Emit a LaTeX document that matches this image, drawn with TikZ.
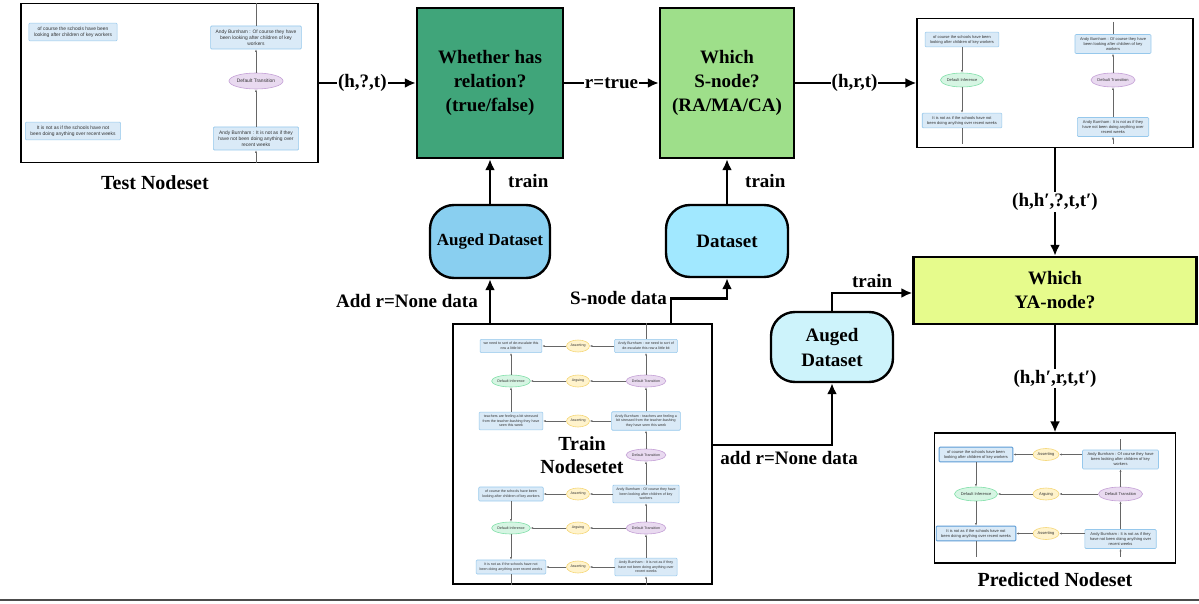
\documentclass[tikz,border=0pt]{standalone}
\usepackage{fontspec}
\setmainfont{Liberation Serif}
\setsansfont{Liberation Sans}
\usetikzlibrary{arrows.meta,shapes.geometric}
\definecolor{relgreen}{RGB}{64,165,122}
\definecolor{snodegreen}{RGB}{158,223,138}
\definecolor{yagreen}{RGB}{230,251,140}
\definecolor{augblue}{RGB}{137,207,240}
\definecolor{dsblue}{RGB}{161,232,255}
\definecolor{augpale}{RGB}{205,243,251}
\definecolor{propfill}{RGB}{218,234,247}
\definecolor{propline}{RGB}{150,200,236}
\definecolor{propdark}{RGB}{91,155,213}
\definecolor{transfill}{RGB}{233,218,240}
\definecolor{transline}{RGB}{196,160,214}
\definecolor{inffill}{RGB}{214,245,227}
\definecolor{infline}{RGB}{130,224,170}
\definecolor{assfill}{RGB}{255,243,204}
\definecolor{assline}{RGB}{245,215,120}

\begin{document}
\begin{tikzpicture}[x=1pt, y=-1pt,
  stage/.style={draw, line width=2.4pt, align=center, inner sep=0pt, font=\bfseries\fontsize{19}{24}\selectfont},
  dset/.style={draw, line width=2.4pt, rounded corners=24pt, align=center, inner sep=0pt, font=\bfseries\fontsize{19}{25}\selectfont},
  frame/.style={draw, line width=1.2pt, fill=white, inner sep=0pt},
  flow/.style={line width=2.4pt, -{Latex[length=11pt,width=10pt]}},
  lab/.style={font=\bfseries\fontsize{19}{23}\selectfont, fill=white, inner sep=1pt},
  title/.style={font=\bfseries\fontsize{20}{23}\selectfont, align=center},
  prop/.style={draw=propline, fill=propfill, line width=0.6pt, rounded corners=1pt, align=center, text=black!80},
  trans/.style={ellipse, draw=transline, fill=transfill, line width=0.6pt, inner sep=0pt, text=black!80},
  inf/.style={ellipse, draw=infline, fill=inffill, line width=0.6pt, inner sep=0pt, text=black!80},
  ass/.style={ellipse, draw=assline, fill=assfill, line width=0.6pt, inner sep=0pt, text=black!80},
  link/.style={draw=black!60, line width=0.5pt},
  linkto/.style={link, -{Latex[length=2.5pt,width=2pt]}}]
  \useasboundingbox (0,0) rectangle (1199,604);

  \node[frame, minimum width=297pt, minimum height=159pt] (test) at (169.5,83) {};
  \node[stage, fill=relgreen, minimum width=146pt, minimum height=150pt] (rel) at (490,83) {Whether has\\relation?\\(true/false)};
  \node[stage, fill=snodegreen, minimum width=134pt, minimum height=150pt] (snode) at (727,83) {Which\\S-node?\\(RA/MA/CA)};
  \node[frame, minimum width=276pt, minimum height=129pt] (sres) at (1055,83) {};
  \node[stage, fill=yagreen, minimum width=283pt, minimum height=67pt] (ya) at (1055,290.5) {Which\\YA-node?};
  \node[frame, minimum width=241pt, minimum height=130pt] (pred) at (1055,498) {};
  \node[dset, fill=augblue, minimum width=120pt, minimum height=73pt, font=\bfseries\fontsize{17}{20}\selectfont] (aug1) at (490,241.5) {Auged Dataset};
  \node[dset, fill=dsblue, minimum width=122pt, minimum height=72pt] (ds) at (727,241) {Dataset};
  \node[frame, minimum width=259pt, minimum height=260pt] (trainset) at (582.5,454) {};
  \node[dset, fill=augpale, minimum width=122pt, minimum height=70pt] (aug2) at (832,347) {Auged\\Dataset};

  \begin{scope}[every node/.append style={font=\sffamily\fontsize{4.9}{6.2}\selectfont, inner xsep=5pt, inner ysep=3.5pt}]
    \node[prop] (t1) at (73,32) {of course the schools have been\\looking after children of key workers};
    \node[prop] (t2) at (73,131) {It is not as if the schools have not\\been doing anything over recent weeks};
    \node[prop] (t3) at (256,37.5) {Andy Burnham : Of course they have\\been looking after children of key\\workers};
    \node[trans, minimum width=51pt, minimum height=16pt] (t4) at (256,81) {Default Transition};
    \node[prop] (t5) at (256,138.5) {Andy Burnham : It is not as if they\\have not been doing anything over\\recent weeks};
    \draw[link] (test.north -| t3) -- (t3);
    \draw[linkto] (t4) -- (t3);
    \draw[linkto] (t5) -- (t4);
    \draw[linkto] (test.south -| t5) -- (t5);
  \end{scope}

  \begin{scope}[every node/.append style={font=\sffamily\fontsize{4}{5}\selectfont, inner xsep=5pt, inner ysep=3pt}]
    \node[prop] (r1) at (962,39.5) {of course the schools have been\\looking after children of key workers};
    \node[inf, minimum width=42pt, minimum height=14pt] (r2) at (962,80) {Default Inference};
    \node[prop] (r3) at (962,120.5) {It is not as if the schools have not\\been doing anything over recent weeks};
    \node[prop] (r4) at (1113,44) {Andy Burnham : Of course they have\\been looking after children of key\\workers};
    \node[trans, minimum width=42pt, minimum height=14pt] (r5) at (1113,80) {Default Transition};
    \node[prop] (r6) at (1113,127) {Andy Burnham : It is not as if they\\have not been doing anything over\\recent weeks};
    \draw[linkto] (r1) -- (r2);
    \draw[linkto] (r2) -- (r3);
    \draw[link, shorten >=4pt] (r3) -- (sres.south -| r3);
    \draw[link, shorten <=4pt] (sres.north -| r4) -- (r4);
    \draw[linkto] (r5) -- (r4);
    \draw[linkto] (r6) -- (r5);
    \draw[linkto, shorten <=4pt] (sres.south -| r6) -- (r6);
  \end{scope}

  \begin{scope}[every node/.append style={font=\sffamily\fontsize{4}{5}\selectfont, inner xsep=5pt, inner ysep=3pt}]
    \node[prop, draw=propdark, line width=0.9pt] (p1) at (976,454.5) {of course the schools have been\\looking after children of key workers};
    \node[ass, minimum width=26pt, minimum height=12pt] (p2) at (1046,454.5) {Asserting};
    \node[prop] (p3) at (1120.5,459.5) {Andy Burnham : Of course they have\\been looking after children of key\\workers};
    \node[inf, minimum width=42pt, minimum height=14pt] (p4) at (976,494) {Default Inference};
    \node[ass, minimum width=26pt, minimum height=12pt] (p5) at (1046,494) {Arguing};
    \node[trans, minimum width=42pt, minimum height=14pt] (p6) at (1120.5,494) {Default Transition};
    \node[prop, draw=propdark, line width=0.9pt] (p7) at (976,533.5) {It is not as if the schools have not\\been doing anything over recent weeks};
    \node[ass, minimum width=26pt, minimum height=12pt] (p8) at (1046,533.5) {Asserting};
    \node[prop] (p9) at (1120.5,539) {Andy Burnham : It is not as if they\\have not been doing anything over\\recent weeks};
    \draw[link, shorten <=7pt] (pred.north -| p3) -- (p3);
    \draw[linkto] (p3.west |- p2) -- (p2);
    \draw[linkto] (p2) -- (p1);
    \draw[linkto] (p6) -- (p5);
    \draw[linkto] (p5) -- (p4);
    \draw[linkto] (p1) -- (p4);
    \draw[linkto] (p4) -- (p7);
    \draw[link, shorten >=7pt] (p7) -- (pred.south -| p7);
    \draw[linkto] (p6) -- (p3);
    \draw[linkto] (p9) -- (p6);
    \draw[linkto, shorten <=7pt] (pred.south -| p9) -- (p9);
    \draw[linkto] (p9.west |- p8) -- (p8);
    \draw[linkto] (p8) -- (p7);
  \end{scope}

  \begin{scope}[every node/.append style={font=\sffamily\fontsize{3.6}{4.6}\selectfont, inner xsep=3.5pt, inner ysep=3pt}]
    \node[prop] (a1) at (511,346) {we need to sort of de-escalate this\\row a little bit};
    \node[ass, minimum width=23pt, minimum height=12pt] (a2) at (578,346) {Asserting};
    \node[prop] (a3) at (646,346) {Andy Burnham : we need to sort of\\de-escalate this row a little bit};
    \node[inf, minimum width=38pt, minimum height=12pt] (a4) at (511,381) {Default Inference};
    \node[ass, minimum width=23pt, minimum height=12pt] (a5) at (578,381) {Arguing};
    \node[trans, minimum width=38pt, minimum height=12pt] (a6) at (646,381) {Default Transition};
    \node[prop] (a7) at (511,421) {teachers are feeling a bit stressed\\from the teacher-bashing they have\\seen this week};
    \node[ass, minimum width=23pt, minimum height=12pt] (a8) at (578,421) {Asserting};
    \node[prop] (a9) at (646,421) {Andy Burnham : teachers are feeling a\\bit stressed from the teacher-bashing\\they have seen this week};
    \node[trans, minimum width=38pt, minimum height=12pt] (a10) at (646,455) {Default Transition};
    \node[prop] (a11) at (511,494) {of course the schools have been\\looking after children of key workers};
    \node[ass, minimum width=23pt, minimum height=12pt] (a12) at (578,494) {Asserting};
    \node[prop] (a13) at (646,494) {Andy Burnham : Of course they have\\been looking after children of key\\workers};
    \node[inf, minimum width=38pt, minimum height=12pt] (a14) at (511,528) {Default Inference};
    \node[ass, minimum width=23pt, minimum height=12pt] (a15) at (578,528) {Arguing};
    \node[trans, minimum width=38pt, minimum height=12pt] (a16) at (646,528) {Default Transition};
    \node[prop] (a17) at (511,567) {It is not as if the schools have not\\been doing anything over recent weeks};
    \node[ass, minimum width=23pt, minimum height=12pt] (a18) at (578,567) {Asserting};
    \node[prop] (a19) at (646,567) {Andy Burnham : It is not as if they\\have not been doing anything over\\recent weeks};
    \draw[link] (trainset.north -| a3) -- (a3);
    \draw[linkto] (a3) -- (a2);
    \draw[linkto] (a2) -- (a1);
    \draw[linkto] (a6) -- (a5);
    \draw[linkto] (a5) -- (a4);
    \draw[linkto] (a4) -- (a1);
    \draw[linkto] (a7) -- (a4);
    \draw[linkto] (a6) -- (a3);
    \draw[linkto] (a9) -- (a6);
    \draw[linkto] (a10) -- (a9);
    \draw[linkto] (a9) -- (a8);
    \draw[linkto] (a8) -- (a7);
    \draw[linkto] (a13) -- (a10);
    \draw[linkto] (a11) -- (a14);
    \draw[linkto] (a14) -- (a17);
    \draw[linkto] (a16) -- (a13);
    \draw[linkto] (a19) -- (a16);
    \draw[linkto] (a13) -- (a12);
    \draw[linkto] (a12) -- (a11);
    \draw[linkto] (a16) -- (a15);
    \draw[linkto] (a15) -- (a14);
    \draw[linkto] (a19) -- (a18);
    \draw[linkto] (a18) -- (a17);
    \draw[linkto] (trainset.south -| a19) -- (a19);
    \draw[link] (a17) -- (trainset.south -| a17);
  \end{scope}

  \node[title] (testlab) at (155,183) {Test Nodeset};
  \node[title] (predlab) at (1055,580) {Predicted Nodeset};
  \node[title] (trainlab) at (582,455) {Train\\Nodesetet};

  \draw[flow] (test) -- node[lab, pos=0.45] {(h,?,t)} (rel);
  \draw[flow] (rel) -- node[lab] {r=true} (snode);
  \draw[flow] (snode) -- node[lab, pos=0.49] {(h,r,t)} (sres);
  \draw[flow] (sres) -- node[lab] {(h,h′,?,t,t′)} (ya);
  \draw[flow] (ya) -- node[lab] {(h,h′,r,t,t′)} (pred);
  \draw[flow] (aug1) -- node[lab, right=16pt] {train} (rel);
  \draw[flow] (ds) -- node[lab, right=16pt] {train} (snode);
  \draw[flow] (trainset.north -| aug1.south) -- node[lab, left=10pt] {Add r=None data} (aug1);
  \draw[flow] ([xshift=88.5pt]trainset.north) -- ++(0,-25) node[lab, left=2pt] {S-node data} -| (ds);
  \draw[flow] ([yshift=9pt]trainset.east) -| node[lab, below=4pt, pos=0.32] {add r=None data} (aug2);
  \draw[flow] (aug2) |- node[lab, above=3pt, pos=0.75] {train} ([yshift=-2.5pt]ya.west);
  \draw[line width=1.2pt, black!70] (0,600) -- (1199,600);
\end{tikzpicture}
\end{document}
